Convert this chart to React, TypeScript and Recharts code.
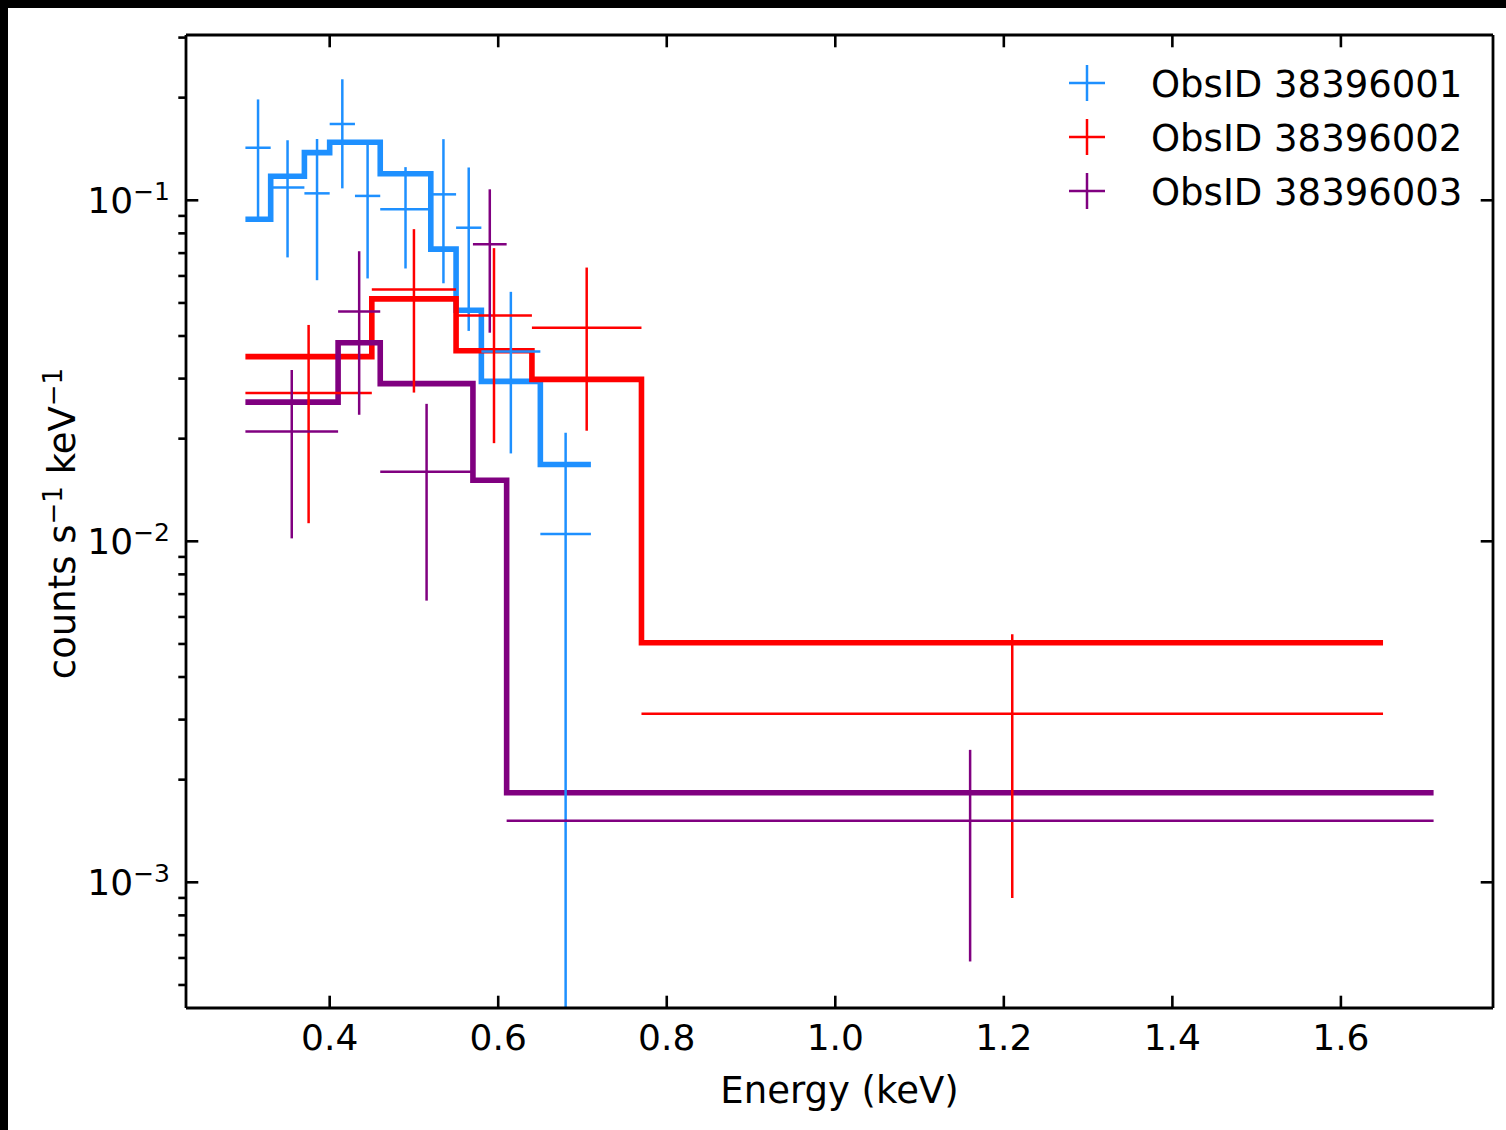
import React from 'react';
import { ComposedChart, Line, Scatter, ErrorBar, XAxis, YAxis, Legend } from 'recharts';

// ---------- data ----------
const OBS_NAMES = ['ObsID 38396001', 'ObsID 38396002', 'ObsID 38396003'];
const OBS_COLORS = ['#1E90FF', '#FF0000', '#800080'];

// ObsID 38396001 (blue)
const BLUE_EDGES = [0.30, 0.33, 0.37, 0.40, 0.43, 0.46, 0.52, 0.55, 0.58, 0.65, 0.71];
const BLUE_RATE = [0.1426, 0.109, 0.1048, 0.1674, 0.103, 0.0941, 0.1041, 0.0831, 0.036, 0.0105];
const BLUE_ERR = [0.055, 0.041, 0.0465, 0.059, 0.044, 0.031, 0.047, 0.0417, 0.0179, 0.0103];
const BLUE_MODEL = [0.088, 0.1176, 0.138, 0.148, 0.148, 0.1196, 0.0719, 0.0476, 0.02945, 0.0168];

// ObsID 38396002 (red)
const RED_EDGES = [0.30, 0.45, 0.55, 0.64, 0.77, 1.65];
const RED_RATE = [0.0272, 0.0548, 0.0459, 0.0423, 0.00312];
const RED_ERR = [0.0159, 0.0275, 0.0265, 0.0212, 0.00222];
const RED_MODEL = [0.0348, 0.0514, 0.0362, 0.02985, 0.00504];

// ObsID 38396003 (purple)
const PURPLE_EDGES = [0.30, 0.41, 0.46, 0.57, 0.61, 1.71];
const PURPLE_RATE = [0.021, 0.0472, 0.016, 0.0743, 0.001516];
const PURPLE_ERR = [0.0108, 0.0237, 0.0093, 0.0334, 0.00093];
const PURPLE_MODEL = [0.0256, 0.0382, 0.029, 0.0151, 0.00183];

const X_DOMAIN = [0.2295, 1.7805];
const X_TICKS = [0.4, 0.6, 0.8, 1.0, 1.2, 1.4, 1.6];
const Y_DOMAIN = [4.28e-4, 0.3053];
const Y_MAJOR = [0.001, 0.01, 0.1];
const Y_TICKS = [
  5e-4, 6e-4, 7e-4, 8e-4, 9e-4,
  0.001, 0.002, 0.003, 0.004, 0.005, 0.006, 0.007, 0.008, 0.009,
  0.01, 0.02, 0.03, 0.04, 0.05, 0.06, 0.07, 0.08, 0.09,
  0.1, 0.2, 0.3,
];

// ---------- builders ----------
const makePoints = (edges: number[], rate: number[], err: number[]) =>
  rate.map((v, i) => ({
    x: (edges[i] + edges[i + 1]) / 2,
    xe: (edges[i + 1] - edges[i]) / 2,
    y: v,
    ye: err[i],
  }));

const makeStep = (edges: number[], model: number[]) =>
  edges.map((e, i) => ({ x: e, y: model[Math.min(i, model.length - 1)] }));

const SERIES = [
  { points: makePoints(BLUE_EDGES, BLUE_RATE, BLUE_ERR), step: makeStep(BLUE_EDGES, BLUE_MODEL) },
  { points: makePoints(RED_EDGES, RED_RATE, RED_ERR), step: makeStep(RED_EDGES, RED_MODEL) },
  { points: makePoints(PURPLE_EDGES, PURPLE_RATE, PURPLE_ERR), step: makeStep(PURPLE_EDGES, PURPLE_MODEL) },
];

const FONT = 'DejaVu Sans';
const FS = 36;
const FS_LABEL = 37;
const SUP = 25;
const SUP_LABEL = 26;
const TICK_W = 2.6;

// plot area in chart coordinates (used only for clipping error bars)
const MARGIN = { top: 26, right: 12, bottom: 22, left: 8 };
const CHART_W = 1498;
const CHART_H = 1122;
const PLOT = { x: 178, y: 27, w: 1307, h: 973 };

const isMajor = (v: number) => Y_MAJOR.some((m) => Math.abs(m - v) < m * 1e-6);

const BottomTick = (props: any) => {
  const { x, y, payload } = props;
  return (
    <g>
      <line x1={x} x2={x} y1={y} y2={y - 12.3} stroke="#000" strokeWidth={TICK_W} />
      <text x={x} y={y + 41.5} textAnchor="middle" fontFamily={FONT} fontSize={FS} fill="#000">
        {Number(payload.value).toFixed(1)}
      </text>
    </g>
  );
};

const TopTick = (props: any) => {
  const { x, y } = props;
  return <line x1={x} x2={x} y1={y} y2={y + 12.3} stroke="#000" strokeWidth={TICK_W} />;
};

const LeftTick = (props: any) => {
  const { x, y, payload } = props;
  const v = payload.value;
  if (!isMajor(v)) {
    return <line x1={x - 7.7} x2={x} y1={y} y2={y} stroke="#000" strokeWidth={TICK_W} />;
  }
  const exp = Math.round(Math.log10(v));
  return (
    <g>
      <line x1={x} x2={x + 12.3} y1={y} y2={y} stroke="#000" strokeWidth={TICK_W} />
      <text x={x - 16} y={y + 13} textAnchor="end" fontFamily={FONT} fontSize={FS} fill="#000">
        10
        <tspan dy={-13} fontSize={SUP}>{'\u2212' + Math.abs(exp)}</tspan>
      </text>
    </g>
  );
};

const RightTick = (props: any) => {
  const { x, y, payload } = props;
  if (!isMajor(payload.value)) return <g />;
  return <line x1={x - 12.3} x2={x} y1={y} y2={y} stroke="#000" strokeWidth={TICK_W} />;
};

const XLabel = (props: any) => {
  const vb = props.viewBox || { x: 178, y: 1000, width: 1307 };
  return (
    <text x={vb.x + vb.width / 2} y={vb.y + 95} textAnchor="middle" fontFamily={FONT} fontSize={FS_LABEL} fill="#000">
      Energy (keV)
    </text>
  );
};

const YLabel = (props: any) => {
  const vb = props.viewBox || { x: 8, y: 27, width: 170, height: 973 };
  const cx = vb.x + 59;
  const cy = vb.y + vb.height / 2 + 2;
  return (
    <text
      x={cx}
      y={cy}
      transform={`rotate(-90 ${cx} ${cy})`}
      textAnchor="middle"
      fontFamily={FONT}
      fontSize={FS_LABEL}
      fill="#000"
    >
      counts s
      <tspan dy={-13} fontSize={SUP_LABEL}>{'\u22121'}</tspan>
      <tspan dy={13}>{' keV'}</tspan>
      <tspan dy={-13} fontSize={SUP_LABEL}>{'\u22121'}</tspan>
    </text>
  );
};

const LegendContent = () => (
  <svg width={CHART_W} height={230} style={{ display: 'block' }}>
    {OBS_NAMES.map((name, i) => {
      const cx = 1079;
      const cy = 75 + i * 54;
      return (
        <g key={name}>
          <line x1={cx - 18} x2={cx + 18} y1={cy} y2={cy} stroke={OBS_COLORS[i]} strokeWidth={2.5} />
          <line x1={cx} x2={cx} y1={cy - 18} y2={cy + 18} stroke={OBS_COLORS[i]} strokeWidth={2.5} />
          <text x={1143} y={cy + 13.5} fontFamily={FONT} fontSize={FS_LABEL} fill="#000">
            {name}
          </text>
        </g>
      );
    })}
  </svg>
);

const NoShape = () => <g />;

export default function App() {
  return (
    <div style={{ position: 'absolute', left: 0, top: 0, width: 1506, height: 1130, background: '#000' }}>
      <style>{'.recharts-errorBar { clip-path: url(#plotClipArea); }'}</style>
      <svg width={0} height={0} style={{ position: 'absolute', left: 0, top: 0 }}>
        <defs>
          <clipPath id="plotClipArea" clipPathUnits="userSpaceOnUse">
            <rect x={PLOT.x} y={PLOT.y} width={PLOT.w} height={PLOT.h} />
          </clipPath>
        </defs>
      </svg>
      <div style={{ position: 'absolute', left: 8, top: 8, width: CHART_W, height: CHART_H, background: '#fff' }}>
        <ComposedChart width={CHART_W} height={CHART_H} margin={MARGIN}>
          <XAxis
            xAxisId="bottom"
            dataKey="x"
            type="number"
            domain={X_DOMAIN}
            ticks={X_TICKS}
            interval={0}
            allowDataOverflow
            orientation="bottom"
            height={100}
            tickSize={0}
            tickMargin={0}
            tickLine={false}
            axisLine={{ stroke: '#000', strokeWidth: 2.8 }}
            tick={<BottomTick />}
            label={<XLabel />}
          />
          <XAxis
            xAxisId="top"
            dataKey="x"
            type="number"
            domain={X_DOMAIN}
            ticks={X_TICKS}
            interval={0}
            allowDataOverflow
            orientation="top"
            height={1}
            tickSize={0}
            tickMargin={0}
            tickLine={false}
            axisLine={{ stroke: '#000', strokeWidth: 2.8 }}
            tick={<TopTick />}
          />
          <YAxis
            yAxisId="left"
            type="number"
            scale="log"
            domain={Y_DOMAIN}
            ticks={Y_TICKS}
            interval={0}
            allowDataOverflow
            orientation="left"
            width={170}
            tickSize={0}
            tickMargin={0}
            tickLine={false}
            axisLine={{ stroke: '#000', strokeWidth: 2.8 }}
            tick={<LeftTick />}
            label={<YLabel />}
          />
          <YAxis
            yAxisId="right"
            type="number"
            scale="log"
            domain={Y_DOMAIN}
            ticks={Y_MAJOR}
            interval={0}
            allowDataOverflow
            orientation="right"
            width={1}
            tickSize={0}
            tickMargin={0}
            tickLine={false}
            axisLine={{ stroke: '#000', strokeWidth: 2.8 }}
            tick={<RightTick />}
          />
          <Legend
            layout="horizontal"
            verticalAlign="middle"
            align="center"
            wrapperStyle={{ position: 'absolute', left: 0, top: 0, width: CHART_W, height: 230, margin: 0, padding: 0 }}
            content={<LegendContent />}
          />
          {SERIES.map((s, i) => (
            <Line
              key={'model' + i}
              xAxisId="bottom"
              yAxisId="left"
              data={s.step}
              dataKey="y"
              type="stepAfter"
              stroke={OBS_COLORS[i]}
              strokeWidth={5.6}
              strokeLinecap="butt"
              strokeLinejoin="miter"
              dot={false}
              activeDot={false}
              legendType="none"
              isAnimationActive={false}
            />
          ))}
          {SERIES.map((s, i) => (
            <Scatter
              key={'data' + i}
              name={OBS_NAMES[i]}
              xAxisId="bottom"
              yAxisId="left"
              data={s.points}
              dataKey="y"
              fill={OBS_COLORS[i]}
              shape={<NoShape />}
              isAnimationActive={false}
            >
              <ErrorBar dataKey="xe" direction="x" width={0} stroke={OBS_COLORS[i]} strokeWidth={2.5} isAnimationActive={false} />
              <ErrorBar dataKey="ye" direction="y" width={0} stroke={OBS_COLORS[i]} strokeWidth={2.5} isAnimationActive={false} />
            </Scatter>
          ))}
        </ComposedChart>
      </div>
    </div>
  );
}
